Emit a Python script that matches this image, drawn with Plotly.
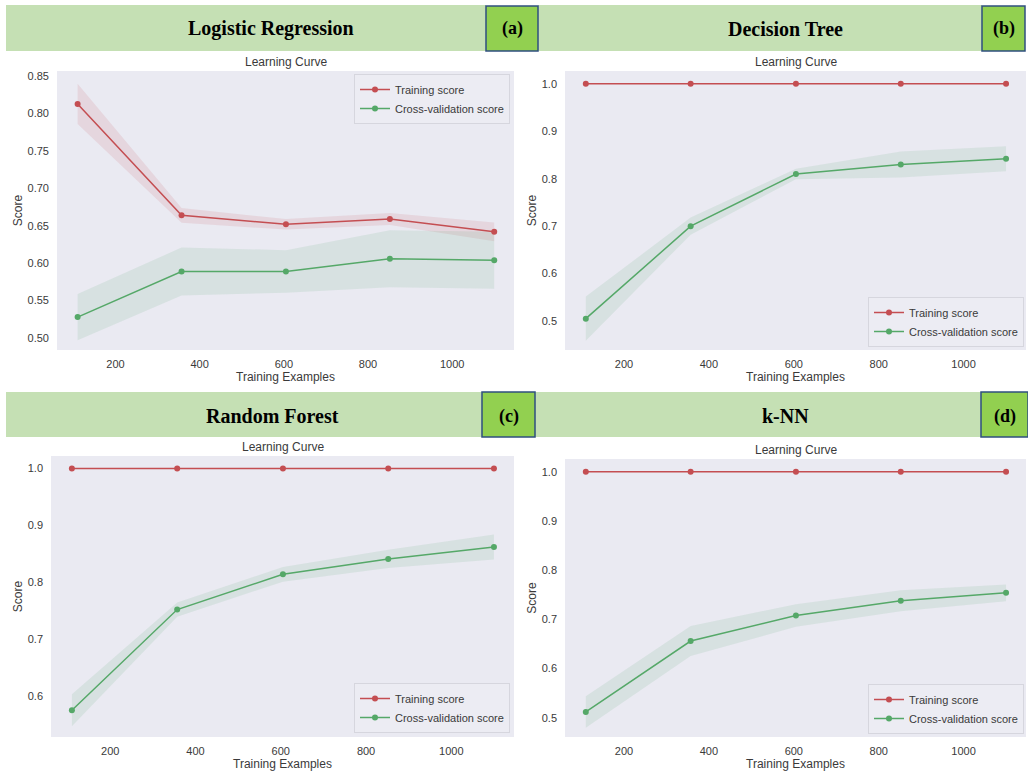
import plotly.graph_objects as go

# ---------------- data ----------------
train_sizes = [110, 357, 605, 852, 1100]

model_names = ["Logistic Regression", "Decision Tree", "Random Forest", "k-NN"]
panel_tags = ["(a)", "(b)", "(c)", "(d)"]

lr_train_mean = [0.813, 0.664, 0.652, 0.659, 0.642]
lr_train_std = [0.027, 0.010, 0.007, 0.008, 0.0125]
lr_cv_mean = [0.528, 0.589, 0.589, 0.606, 0.604]
lr_cv_std = [0.031, 0.032, 0.0285, 0.038, 0.038]

dt_train_mean = [1.0, 1.0, 1.0, 1.0, 1.0]
dt_train_std = [0.0, 0.0, 0.0, 0.0, 0.0]
dt_cv_mean = [0.505, 0.700, 0.810, 0.830, 0.842]
dt_cv_std = [0.0465, 0.018, 0.011, 0.0275, 0.0265]

rf_train_mean = [1.0, 1.0, 1.0, 1.0, 1.0]
rf_train_std = [0.0, 0.0, 0.0, 0.0, 0.0]
rf_cv_mean = [0.575, 0.752, 0.814, 0.841, 0.862]
rf_cv_std = [0.028, 0.0125, 0.013, 0.016, 0.022]

knn_train_mean = [1.0, 1.0, 1.0, 1.0, 1.0]
knn_train_std = [0.0, 0.0, 0.0, 0.0, 0.0]
knn_cv_mean = [0.512, 0.656, 0.708, 0.738, 0.754]
knn_cv_std = [0.032, 0.0305, 0.023, 0.0215, 0.017]

lr_yticks = [0.50, 0.55, 0.60, 0.65, 0.70, 0.75, 0.80, 0.85]
dt_yticks = [0.5, 0.6, 0.7, 0.8, 0.9, 1.0]
rf_yticks = [0.6, 0.7, 0.8, 0.9, 1.0]
knn_yticks = [0.5, 0.6, 0.7, 0.8, 0.9, 1.0]
xticks = [200, 400, 600, 800, 1000]

# ---------------- layout helpers ----------------
W, H = 1028, 776
def fx(x):
    return x / W
def fy(y):
    return 1 - y / H

RED = "#c44e52"
GREEN = "#55a868"
RED_FILL = "rgba(196,78,82,0.12)"
GREEN_FILL = "rgba(85,168,104,0.12)"
BG = "#eaeaf2"
TXT = "#3a3a3a"

panels = [
    dict(tm=lr_train_mean, ts=lr_train_std, cm=lr_cv_mean, cs=lr_cv_std, yt=lr_yticks, fmt="%.2f",
         yr=[0.484, 0.857], dx=[57, 514], dy=[71, 350],
         band=[6, 486, 5, 51], box=[486, 538, 6, 51], title_x=271, tag_x=512, head_y=29,
         lc_y=62, leg=dict(x=fx(510), y=fy(74), yanchor="top")),
    dict(tm=dt_train_mean, ts=dt_train_std, cm=dt_cv_mean, cs=dt_cv_std, yt=dt_yticks, fmt="%.1f",
         yr=[0.439, 1.027], dx=[565, 1026], dy=[71, 350],
         band=[538, 982, 5, 51], box=[982, 1025, 6, 51], title_x=785, tag_x=1003.5, head_y=29,
         lc_y=62, leg=dict(x=fx(1024), y=fy(347), yanchor="bottom")),
    dict(tm=rf_train_mean, ts=rf_train_std, cm=rf_cv_mean, cs=rf_cv_std, yt=rf_yticks, fmt="%.1f",
         yr=[0.528, 1.022], dx=[51, 514], dy=[456, 737],
         band=[6, 482, 392, 437], box=[482, 535, 392, 437], title_x=272, tag_x=508.5, head_y=416,
         lc_y=447, leg=dict(x=fx(510), y=fy(733), yanchor="bottom")),
    dict(tm=knn_train_mean, ts=knn_train_std, cm=knn_cv_mean, cs=knn_cv_std, yt=knn_yticks, fmt="%.1f",
         yr=[0.461, 1.026], dx=[565, 1026], dy=[459, 737],
         band=[535, 981, 392, 437], box=[981, 1028, 392, 437], title_x=785, tag_x=1004.5, head_y=416,
         lc_y=450, leg=dict(x=fx(1024), y=fy(734), yanchor="bottom")),
]

fig = go.Figure()
shapes = []
annotations = []
layout_axes = {}

for i, p in enumerate(panels):
    n = i + 1
    xa = "x" if n == 1 else f"x{n}"
    ya = "y" if n == 1 else f"y{n}"
    leg = "legend" if n == 1 else f"legend{n}"

    t_up = [m + s for m, s in zip(p["tm"], p["ts"])]
    t_lo = [m - s for m, s in zip(p["tm"], p["ts"])]
    c_up = [m + s for m, s in zip(p["cm"], p["cs"])]
    c_lo = [m - s for m, s in zip(p["cm"], p["cs"])]

    fig.add_trace(go.Scatter(x=train_sizes + train_sizes[::-1], y=t_up + t_lo[::-1],
                             fill="toself", fillcolor=RED_FILL, line=dict(width=0),
                             mode="lines", hoverinfo="skip", showlegend=False, xaxis=xa, yaxis=ya))
    fig.add_trace(go.Scatter(x=train_sizes + train_sizes[::-1], y=c_up + c_lo[::-1],
                             fill="toself", fillcolor=GREEN_FILL, line=dict(width=0),
                             mode="lines", hoverinfo="skip", showlegend=False, xaxis=xa, yaxis=ya))
    fig.add_trace(go.Scatter(x=train_sizes, y=p["tm"], mode="lines+markers", name="Training score",
                             line=dict(color=RED, width=1.5), marker=dict(color=RED, size=6),
                             xaxis=xa, yaxis=ya, legend=leg))
    fig.add_trace(go.Scatter(x=train_sizes, y=p["cm"], mode="lines+markers", name="Cross-validation score",
                             line=dict(color=GREEN, width=1.5), marker=dict(color=GREEN, size=6),
                             xaxis=xa, yaxis=ya, legend=leg))

    axis_font = dict(family="Liberation Sans, Arial, sans-serif", size=11, color=TXT)
    title_font = dict(family="Liberation Sans, Arial, sans-serif", size=12, color=TXT)
    xkey = "xaxis" if n == 1 else f"xaxis{n}"
    ykey = "yaxis" if n == 1 else f"yaxis{n}"
    layout_axes[xkey] = dict(domain=[fx(p["dx"][0]), fx(p["dx"][1])], anchor=ya,
                             range=[61, 1147], tickvals=xticks, ticks="", showgrid=False,
                             zeroline=False, showline=False, tickfont=axis_font, ticklabelstandoff=6,
                             color=TXT,
                             title=dict(text="Training Examples", font=title_font, standoff=3))
    layout_axes[ykey] = dict(domain=[fy(p["dy"][1]), fy(p["dy"][0])], anchor=xa,
                             range=p["yr"], tickvals=p["yt"],
                             ticktext=[p["fmt"] % v for v in p["yt"]], ticks="", showgrid=False,
                             zeroline=False, showline=False, tickfont=axis_font, ticklabelstandoff=7,
                             color=TXT,
                             title=dict(text="Score", font=title_font, standoff=2))

    # legend
    layout_axes[leg] = dict(x=p["leg"]["x"], y=p["leg"]["y"], xanchor="right", yanchor=p["leg"]["yanchor"],
                            bgcolor="rgba(236,236,243,0.9)", bordercolor="#d6d6de", borderwidth=1,
                            font=dict(family="Liberation Sans, Arial, sans-serif", size=11, color=TXT),
                            tracegroupgap=0, itemwidth=30)

    # header band and tag box
    b = p["band"]
    shapes.append(dict(type="rect", xref="paper", yref="paper", x0=fx(b[0]), x1=fx(b[1]),
                       y0=fy(b[3]), y1=fy(b[2]), fillcolor="#c5e0b4", line=dict(width=0), layer="below"))
    bx = p["box"]
    shapes.append(dict(type="rect", xref="paper", yref="paper", x0=fx(bx[0]), x1=fx(bx[1]),
                       y0=fy(bx[3]), y1=fy(bx[2]), fillcolor="#92d050",
                       line=dict(color="#2f4f7f", width=1.5), layer="above"))
    annotations.append(dict(text=f"<b>{model_names[i]}</b>", x=fx(p["title_x"]), y=fy(p["head_y"]),
                            xref="paper", yref="paper", showarrow=False, xanchor="center", yanchor="middle",
                            font=dict(family="Liberation Serif, Times New Roman, serif", size=20, color="#000000")))
    annotations.append(dict(text=f"<b>{panel_tags[i]}</b>", x=fx(p["tag_x"]), y=fy(p["head_y"]),
                            xref="paper", yref="paper", showarrow=False, xanchor="center", yanchor="middle",
                            font=dict(family="Liberation Serif, Times New Roman, serif", size=18, color="#000000")))
    annotations.append(dict(text="Learning Curve", x=fx((p["dx"][0] + p["dx"][1]) / 2), y=fy(p["lc_y"]),
                            xref="paper", yref="paper", showarrow=False, xanchor="center", yanchor="middle",
                            font=dict(family="Liberation Sans, Arial, sans-serif", size=12, color=TXT)))

fig.update_layout(width=W, height=H, margin=dict(l=0, r=0, t=0, b=0, pad=0),
                  font=dict(family="Liberation Sans, Arial, sans-serif", color=TXT),
                  paper_bgcolor="white", plot_bgcolor=BG, shapes=shapes, annotations=annotations,
                  showlegend=True, **layout_axes)

fig.write_html("out.html")
